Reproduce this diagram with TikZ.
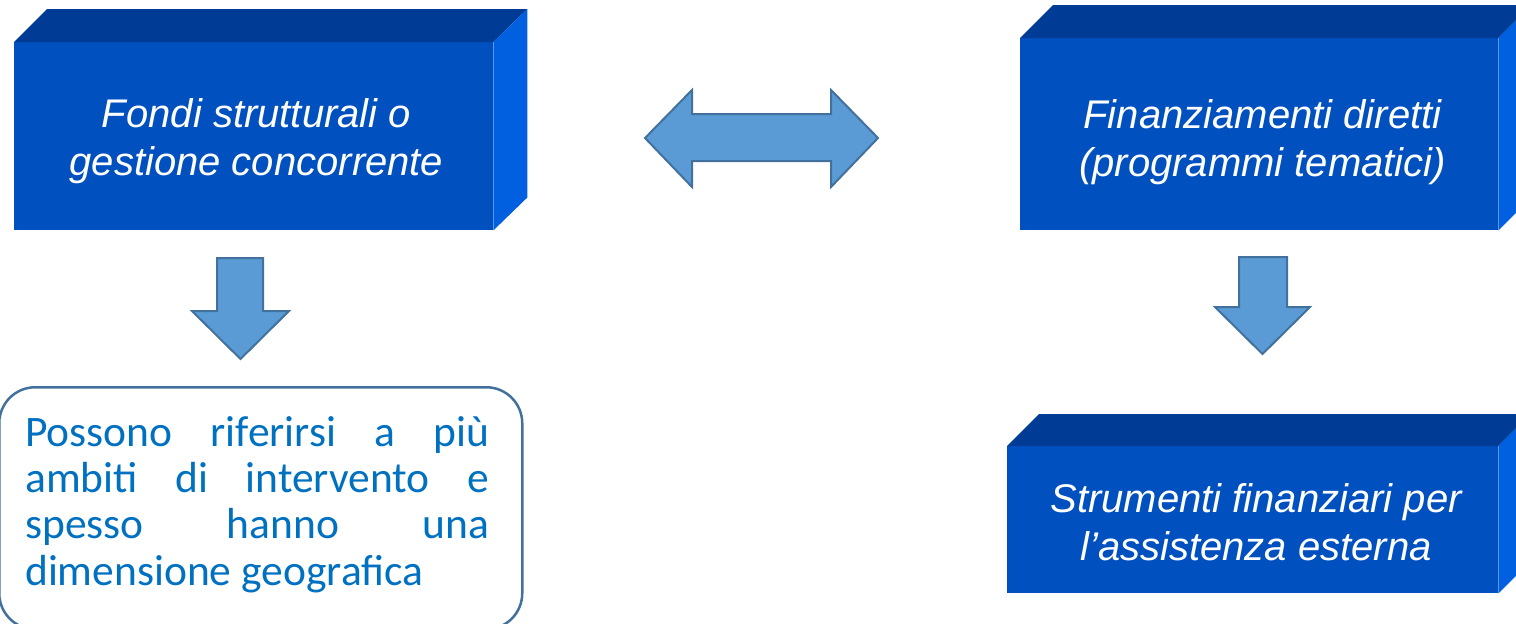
\documentclass[tikz,border=0pt]{standalone}
\usepackage{fontspec}
\setmainfont{Liberation Sans}
\newfontfamily\calib{Carlito}
\definecolor{face}{RGB}{0,80,192}
\definecolor{topface}{RGB}{0,60,150}
\definecolor{sideface}{RGB}{0,96,224}
\definecolor{arrfill}{RGB}{91,155,213}
\definecolor{arrline}{RGB}{65,113,156}
\definecolor{txtblue}{RGB}{0,112,192}
\begin{document}
\begin{tikzpicture}[x=1pt,y=-1pt,
  frontface/.style={fill=face, inner sep=0pt, anchor=north west},
  topfill/.style={fill=topface},
  sidefill/.style={fill=sideface},
  boxtext/.style={text=white, align=center, inner sep=0pt, anchor=base,
    font=\fontsize{40}{48}\selectfont\itshape},
  blockarrow/.style={fill=arrfill, draw=arrline, line width=2pt, line join=miter},
  roundbox/.style={draw=arrline, line width=2.5pt, rounded corners=36pt, inner sep=0pt, anchor=north west},
  roundtext/.style={text=txtblue, align=left, inner sep=0pt, anchor=base west,
    font=\calib\fontsize{43.5}{46.3}\selectfont}
]
\useasboundingbox (0,0) rectangle (1516,624);

% Box 1
\node[frontface, minimum width=479pt, minimum height=188pt] (f1) at (14,42) {};
\fill[topfill] (f1.north west) -- ++(33,-33) -- ([shift={(34,-33)}]f1.north east) -- (f1.north east) -- cycle;
\fill[sidefill] (f1.north east) -- ([shift={(34,-33)}]f1.north east) -- ([shift={(34,-33)}]f1.south east) -- (f1.south east) -- cycle;
\node[boxtext] (t1) at (256.5,175.3) {Fondi strutturali o\\gestione concorrente};

% Box 2
\node[frontface, minimum width=478pt, minimum height=192pt] (f2) at (1020,38) {};
\fill[topfill] (f2.north west) -- ++(33,-33) -- ([shift={(33,-33)}]f2.north east) -- (f2.north east) -- cycle;
\fill[sidefill] (f2.north east) -- ([shift={(33,-33)}]f2.north east) -- ([shift={(33,-33)}]f2.south east) -- (f2.south east) -- cycle;
\node[boxtext] (t2) at (1262.5,176.7) {Finanziamenti diretti\\(programmi tematici)};

% Box 3
\node[frontface, minimum width=491pt, minimum height=147pt] (f3) at (1007,446) {};
\fill[topfill] (f3.north west) -- ++(32,-32) -- ([shift={(32,-32)}]f3.north east) -- (f3.north east) -- cycle;
\fill[sidefill] (f3.north east) -- ([shift={(32,-32)}]f3.north east) -- ([shift={(32,-32)}]f3.south east) -- (f3.south east) -- cycle;
\node[boxtext] (t3) at (1256,560) {Strumenti finanziari per\\l’assistenza esterna};

% Double arrow
\draw[blockarrow] (645,138) -- (692,90) -- (692,114) -- (831,114) -- (831,90) -- (878,138)
  -- (831,187) -- (831,161) -- (692,161) -- (692,187) -- cycle;

% Down arrows
\draw[blockarrow] (217,258) -- (263,258) -- (263,311) -- (289,311) -- (240.5,359) -- (192,311) -- (217,311) -- cycle;
\draw[blockarrow] (1239,257) -- (1287,257) -- (1287,307) -- (1310,307) -- (1262.5,354) -- (1215,307) -- (1239,307) -- cycle;

% Rounded box
\node[roundbox, minimum width=523pt, minimum height=242pt] (rb) at (-2,386) {};
\node[roundtext] (t4) at (25,585) {\makebox[464pt][s]{Possono riferirsi a più}\\
\makebox[464pt][s]{ambiti di intervento e}\\
\makebox[464pt][s]{spesso hanno una}\\
dimensione geografica};
\end{tikzpicture}
\end{document}
